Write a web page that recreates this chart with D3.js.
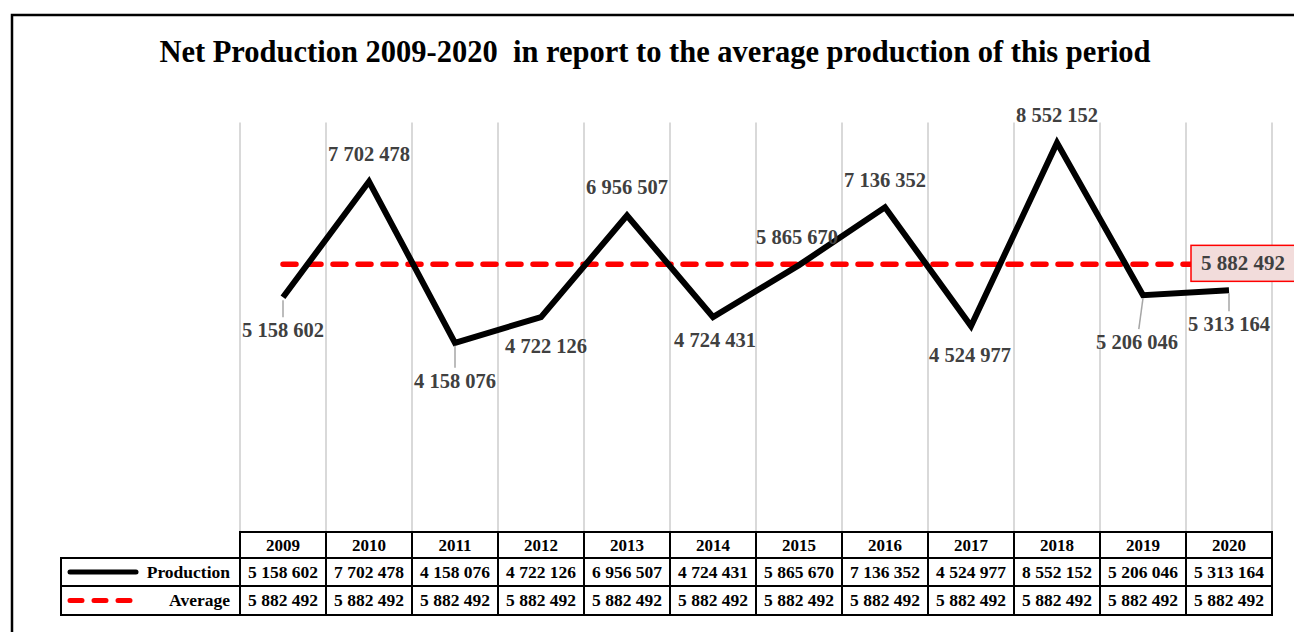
<!DOCTYPE html>
<html>
<head>
<meta charset="utf-8">
<script src="https://cdn.jsdelivr.net/npm/d3@7"></script>
<style>
  html, body { margin: 0; padding: 0; background: #fff; }
  svg { display: block; }
</style>
</head>
<body>
<svg id="chart" width="1294" height="632"></svg>
<script>
// Net production per year and the period average
const years = ["2009", "2010", "2011", "2012", "2013", "2014", "2015", "2016", "2017", "2018", "2019", "2020"];
const production = [5158602, 7702478, 4158076, 4722126, 6956507, 4724431, 5865670, 7136352, 4524977, 8552152, 5206046, 5313164];
const average = [5882492, 5882492, 5882492, 5882492, 5882492, 5882492, 5882492, 5882492, 5882492, 5882492, 5882492, 5882492];
const seriesNames = ["Production", "Average"];
const titleText = "Net Production 2009-2020  in report to the average production of this period";

// Data label placement relative to each point: [dx, dy(baseline), leader line?]
const labelLayout = [
  [0, 40, true], [0, -21, false], [0, 45, true], [5, 36, false],
  [0, -21, false], [2, 30, false], [-2, -21, false], [0, -20, false],
  [-1, 36, false], [0, -21, false], [-6, 54, true], [0, 41, true]
];

const fmt = v => d3.format(",")(v).replace(/,/g, " ");

const svg = d3.select("#chart");
const serif = "'Liberation Serif', 'Times New Roman', serif";

// outer frame
svg.append("rect")
  .attr("x", 12).attr("y", 15).attr("width", 1300).attr("height", 640)
  .attr("fill", "none").attr("stroke", "#000").attr("stroke-width", 2.5);

// title
svg.append("text")
  .attr("x", 655).attr("y", 62)
  .attr("text-anchor", "middle")
  .attr("font-family", serif).attr("font-weight", "bold").attr("font-size", 30.5)
  .attr("fill", "#000")
  .attr("xml:space", "preserve")
  .style("white-space", "pre")
  .text(titleText);

// scales
const x = d3.scaleBand().domain(years).range([240, 1272]).padding(0);
const y = d3.scaleLinear().domain([0, 9000000]).range([532, 122.5]);
const cx = d => x(d) + x.bandwidth() / 2;

// vertical gridlines at category boundaries
const bounds = years.map(d => x(d)).concat([x.range()[1]]);
svg.append("g").selectAll("line").data(bounds).join("line")
  .attr("x1", d => d).attr("x2", d => d)
  .attr("y1", y(9000000)).attr("y2", y(0))
  .attr("stroke", "#d9d9d9").attr("stroke-width", 2);

// average line
const avgLine = d3.line().x((d, i) => cx(years[i])).y(d => y(d));
svg.append("path")
  .datum(average)
  .attr("d", avgLine)
  .attr("fill", "none").attr("stroke", "#ff0000").attr("stroke-width", 5.5)
  .attr("stroke-dasharray", "13 12").attr("stroke-linecap", "round");

// production line
const prodLine = d3.line().x((d, i) => cx(years[i])).y(d => y(d));
svg.append("path")
  .datum(production)
  .attr("d", prodLine)
  .attr("fill", "none").attr("stroke", "#000").attr("stroke-width", 6)
  .attr("stroke-linejoin", "miter");

// data labels with leader lines
const labels = svg.append("g");
production.forEach((v, i) => {
  const [dx, dy, leader] = labelLayout[i];
  const px = cx(years[i]), py = y(v);
  if (leader) {
    labels.append("line")
      .attr("x1", px).attr("y1", py + 3)
      .attr("x2", px + dx * 0.7).attr("y2", py + dy - 20)
      .attr("stroke", "#a6a6a6").attr("stroke-width", 1.5);
  }
  labels.append("text")
    .attr("x", px + dx).attr("y", py + dy)
    .attr("text-anchor", "middle")
    .attr("font-family", serif).attr("font-weight", "bold").attr("font-size", 20.5)
    .attr("fill", "#404040")
    .text(fmt(v));
});

// average value callout at the last point
const lastX = cx(years[years.length - 1]);
const avgY = y(average[average.length - 1]);
svg.append("rect")
  .attr("x", lastX - 38).attr("y", avgY - 19).attr("width", 104).attr("height", 36)
  .attr("fill", "#f2dcdb").attr("stroke", "#ff0000").attr("stroke-width", 1.5);
svg.append("text")
  .attr("x", lastX + 14).attr("y", avgY + 6)
  .attr("text-anchor", "middle")
  .attr("font-family", serif).attr("font-weight", "bold").attr("font-size", 21)
  .attr("fill", "#404040")
  .text(fmt(average[average.length - 1]));

// data table beneath the plot
const tTop = 532, rowH = [26, 28, 29];
const legendLeft = 61;
const tbl = svg.append("g");
const rowY = [tTop, tTop + rowH[0], tTop + rowH[0] + rowH[1], tTop + rowH[0] + rowH[1] + rowH[2]];

// cell borders
years.forEach((yr, i) => {
  for (let r = 0; r < 3; r++) {
    tbl.append("rect")
      .attr("x", x(yr)).attr("y", rowY[r]).attr("width", x.bandwidth()).attr("height", rowH[r])
      .attr("fill", "#fff").attr("stroke", "#000").attr("stroke-width", 2);
  }
});
for (let r = 1; r < 3; r++) {
  tbl.append("rect")
    .attr("x", legendLeft).attr("y", rowY[r]).attr("width", 240 - legendLeft).attr("height", rowH[r])
    .attr("fill", "#fff").attr("stroke", "#000").attr("stroke-width", 2);
}

// header years
tbl.selectAll("text.yr").data(years).join("text")
  .attr("class", "yr")
  .attr("x", d => cx(d)).attr("y", rowY[0] + 19)
  .attr("text-anchor", "middle")
  .attr("font-family", serif).attr("font-weight", "bold").attr("font-size", 17)
  .text(d => d);

// values
[production, average].forEach((arr, r) => {
  tbl.selectAll("text.v" + r).data(arr).join("text")
    .attr("class", "v" + r)
    .attr("x", (d, i) => cx(years[i])).attr("y", rowY[r + 1] + 20)
    .attr("text-anchor", "middle")
    .attr("font-family", serif).attr("font-weight", "bold").attr("font-size", 17.5)
    .text(d => fmt(d));
});

// legend keys
const keyY0 = rowY[1] + rowH[1] / 2, keyY1 = rowY[2] + rowH[2] / 2;
tbl.append("line")
  .attr("x1", 70).attr("x2", 136).attr("y1", keyY0).attr("y2", keyY0)
  .attr("stroke", "#000").attr("stroke-width", 5).attr("stroke-linecap", "round");
tbl.append("line")
  .attr("x1", 70).attr("x2", 136).attr("y1", keyY1).attr("y2", keyY1)
  .attr("stroke", "#ff0000").attr("stroke-width", 5).attr("stroke-linecap", "round")
  .attr("stroke-dasharray", "12 12");
seriesNames.forEach((n, r) => {
  tbl.append("text")
    .attr("x", 230).attr("y", rowY[r + 1] + 20)
    .attr("text-anchor", "end")
    .attr("font-family", serif).attr("font-weight", "bold").attr("font-size", 17.5)
    .text(n);
});
</script>
</body>
</html>
